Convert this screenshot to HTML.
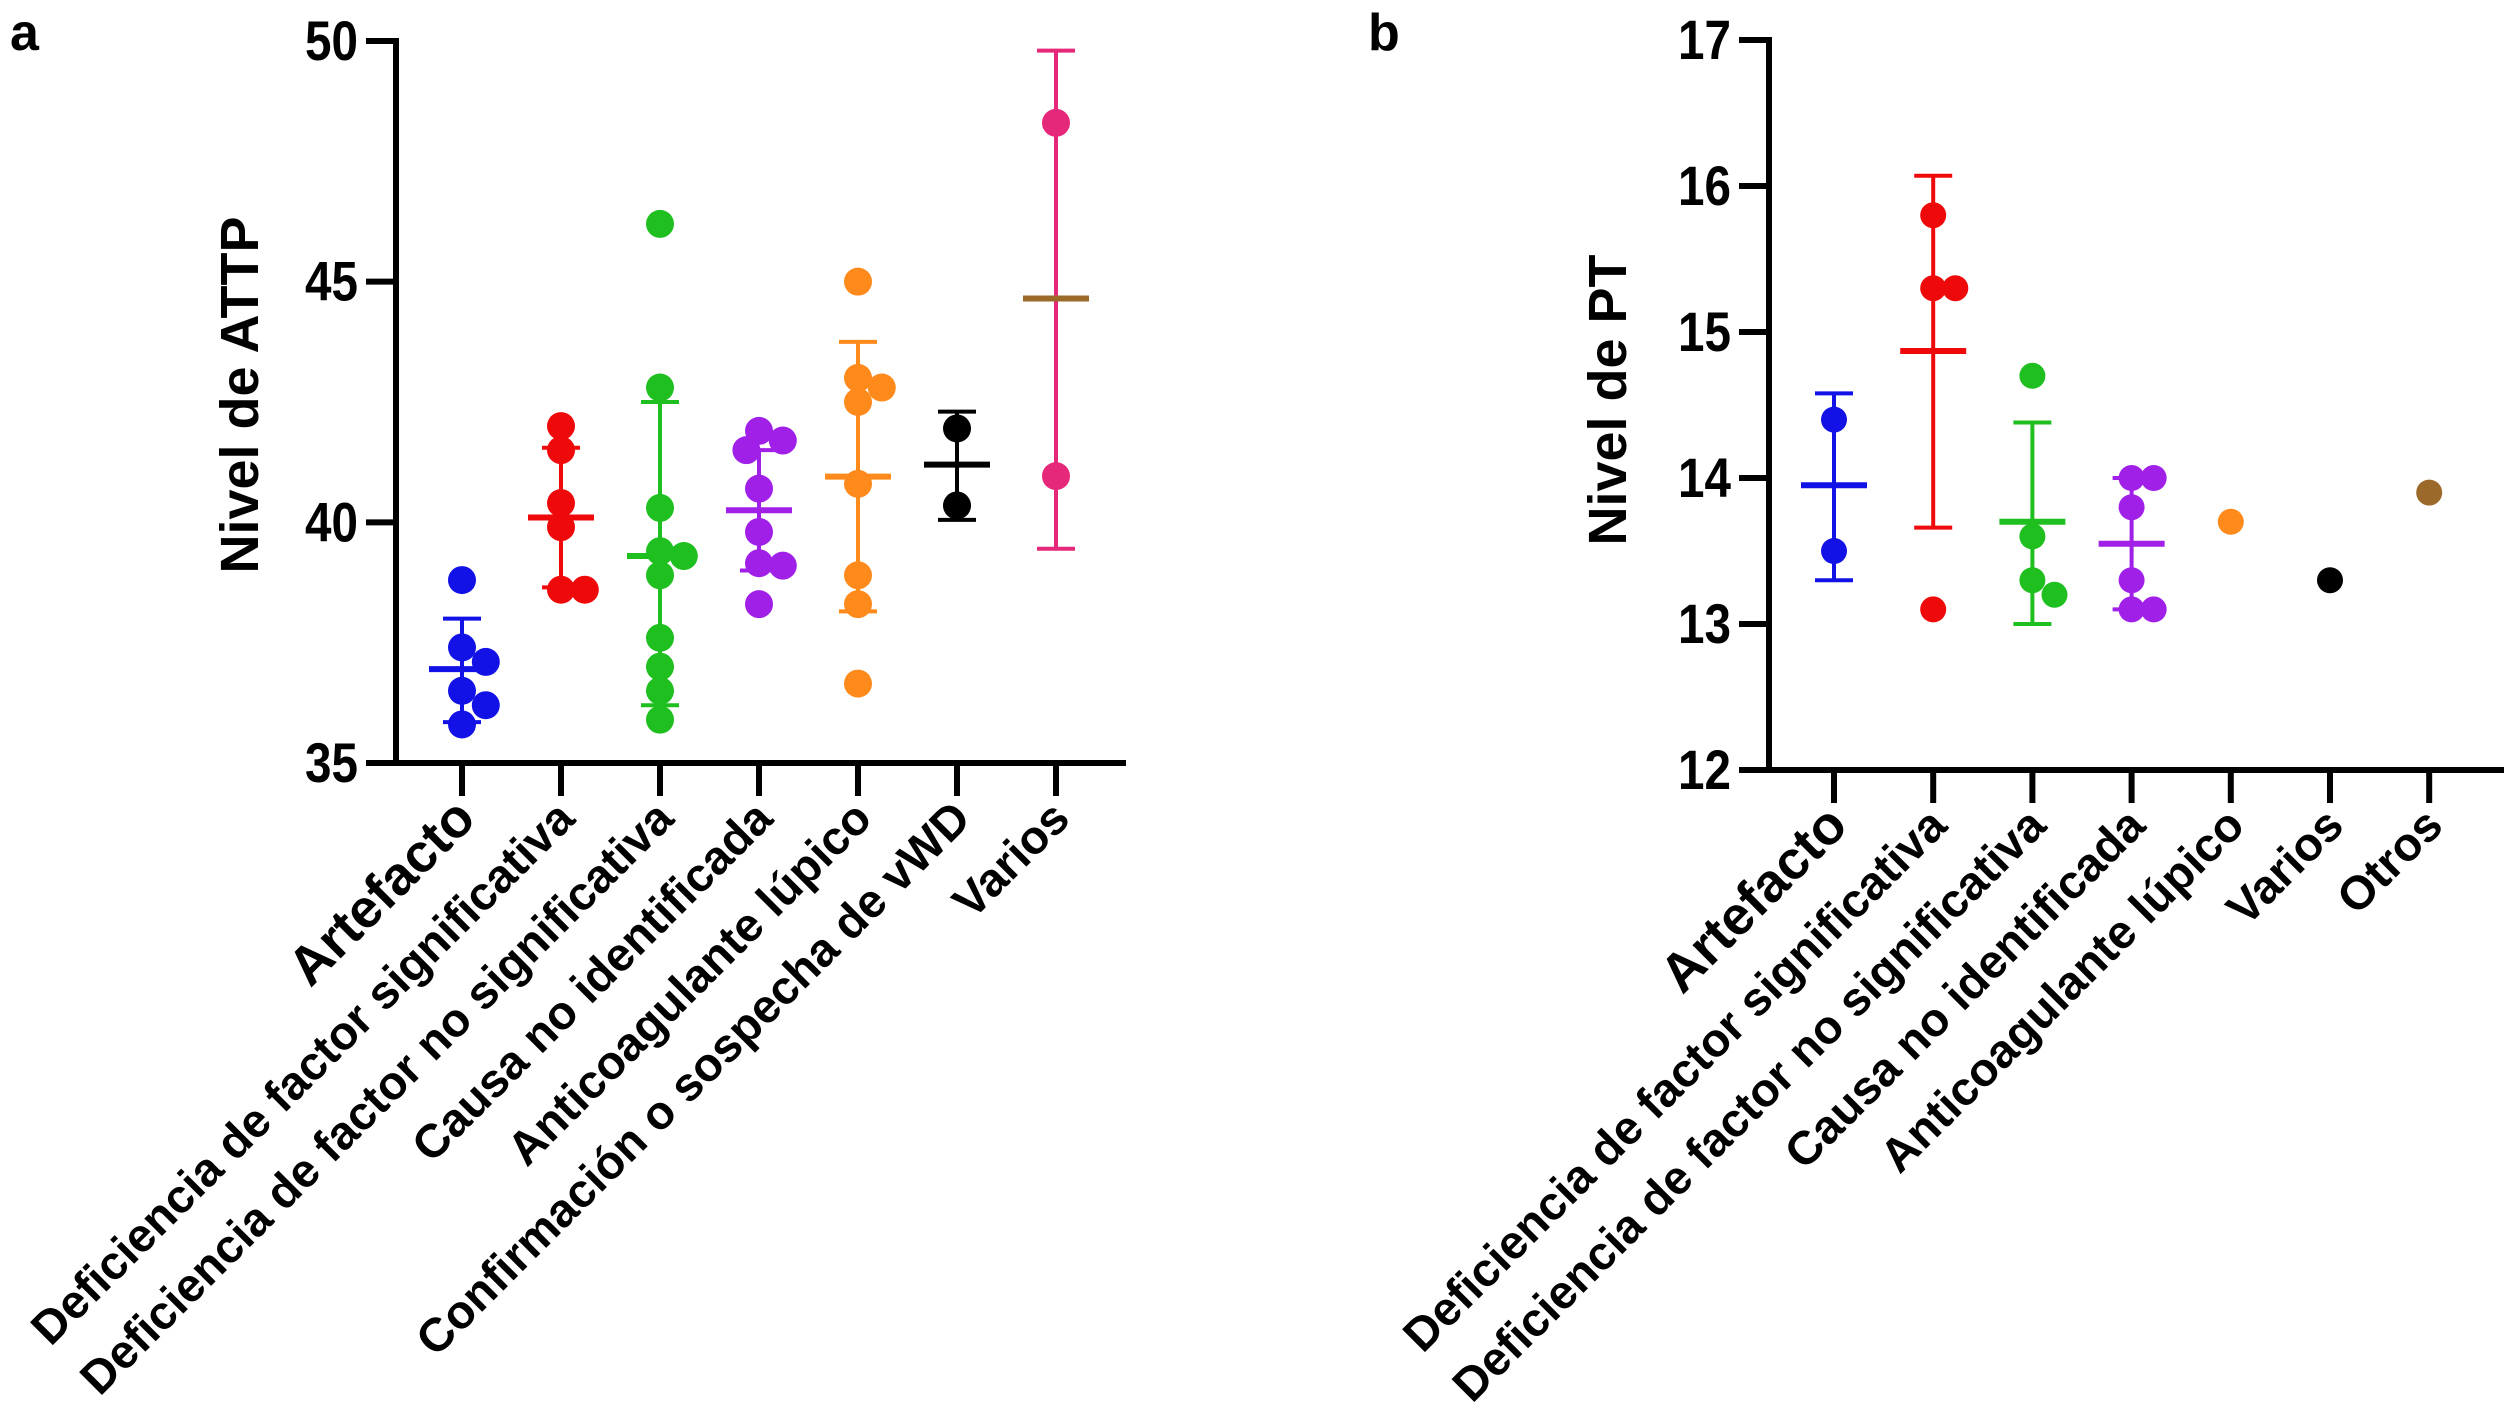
<!DOCTYPE html>
<html><head><meta charset="utf-8">
<style>
html,body{margin:0;padding:0;background:#fff;}
svg{display:block;font-family:"Liberation Sans",Arial,sans-serif;}
</style></head>
<body>
<svg id="chart" width="2508" height="1422" viewBox="0 0 2508 1422" xmlns="http://www.w3.org/2000/svg"></svg>
<script>
// ---------- Panel a data ----------
const catsA = ["Artefacto","Deficiencia de factor significativa","Deficiencia de factor no significativa","Causa no identificada","Anticoagulante lúpico","Confirmación o sospecha de vWD","Varios"];
const colorsA = ["#1212e6","#ee0a0a","#1fbf1f","#a020e8","#ff8a1c","#000000","#e6287a"];
const pointsA = [
  [38.8,37.4,37.1,36.5,36.2,35.8],
  [42.0,41.5,40.4,39.9,38.6,38.6],
  [46.2,42.8,40.3,39.4,39.3,38.9,37.6,37.0,36.5,35.9],
  [41.9,41.7,41.5,40.7,39.8,39.15,39.1,38.3],
  [45.0,43.0,42.8,42.5,40.8,38.9,38.3,36.65],
  [41.95,40.35],
  [48.3,40.96]
];
const meanA = [36.95,40.1,39.3,40.25,40.95,41.2,44.65];
const sdLowA = [35.85,38.65,36.2,39.0,38.15,40.05,39.45];
const sdHighA = [38.0,41.55,42.5,41.5,43.75,42.3,49.8];
const meanColorA = ["#1212e6","#ee0a0a","#1fbf1f","#a020e8","#ff8a1c","#000000","#9b6a2a"];
const ticksA = [35,40,45,50];

// ---------- Panel b data ----------
const catsB = ["Artefacto","Deficiencia de factor significativa","Deficiencia de factor no significativa","Causa no identificada","Anticoagulante lúpico","Varios","Otros"];
const colorsB = ["#1212e6","#ee0a0a","#1fbf1f","#a020e8","#ff8a1c","#000000","#9b6a2a"];
const pointsB = [
  [14.4,13.5],
  [15.8,15.3,15.3,13.1],
  [14.7,13.6,13.3,13.2],
  [14.0,14.0,13.8,13.3,13.1,13.1],
  [13.7],
  [13.3],
  [13.9]
];
const meanB = [13.95,14.87,13.7,13.55,null,null,null];
const sdLowB = [13.3,13.66,13.0,13.1,null,null,null];
const sdHighB = [14.58,16.07,14.38,14.0,null,null,null];
const ticksB = [12,13,14,15,16,17];

const NS="http://www.w3.org/2000/svg";
const svg=document.getElementById('chart');
function mk(tag,attrs,parent){const e=document.createElementNS(NS,tag);for(const k in attrs)e.setAttribute(k,attrs[k]);(parent||svg).appendChild(e);return e;}

function panel(cfg){
  const g=mk('g',{});
  
  
  const yS=v=>cfg.y0px+(v-cfg.vmin)/(cfg.vmax-cfg.vmin)*(cfg.y1px-cfg.y0px);
  const xS=i=>cfg.x0+i*cfg.step;
  const ya=mk('line',{x1:cfg.ax,y1:cfg.y1px-3,x2:cfg.ax,y2:cfg.y0px+3,stroke:'#000','stroke-width':6},g);
  
  
  const xa=mk('line',{x1:cfg.ax-30,y1:cfg.y0px,x2:cfg.axEnd,y2:cfg.y0px,stroke:'#000','stroke-width':6},g);
  
  
  cfg.ticks.forEach(t=>{
    const y=yS(t);
    const tl=mk('line',{x1:cfg.ax-30,y1:y,x2:cfg.ax,y2:y,stroke:'#000','stroke-width':6},g);
    
    
    const tx=mk('text',{x:cfg.ax-38,y:y+19,'text-anchor':'end','font-size':56,'font-weight':'bold',transform:`translate(${cfg.ax-38},0) scale(0.85,1) translate(${-(cfg.ax-38)},0)`},g);
    tx.textContent=t;
    
    
  });
  const yt=mk('text',{x:0,y:0,'text-anchor':'middle','font-size':54,'font-weight':'bold',transform:`translate(${cfg.ytx},${cfg.yty}) rotate(-90)`},g);
  yt.textContent=cfg.ytitle;
  
  
  const pl=mk('text',{x:cfg.lx,y:cfg.ly,'font-size':52,'font-weight':'bold'},g);
  pl.textContent=cfg.letter;
  
  
  cfg.cats.forEach((c,i)=>{
    const x=xS(i);
    const tk=mk('line',{x1:x,y1:cfg.y0px,x2:x,y2:cfg.y0px+33,stroke:'#000','stroke-width':6},g);
    
    
    const fs=(i===0)?54:47;
    const lb=mk('text',{x:0,y:0,'text-anchor':'end','font-size':fs,'font-weight':'bold',transform:`translate(${x+16},${cfg.y0px+58}) rotate(-45)`},g);
    lb.textContent=c;
    
    
  });
  cfg.points.forEach((pts,i)=>{
    const sg=mk('g',{},g);
    
    
    const cx=xS(i),col=cfg.colors[i];
    if(cfg.sdLow[i]!=null){
      const e=mk('line',{x1:cx,y1:yS(cfg.sdLow[i]),x2:cx,y2:yS(cfg.sdHigh[i]),stroke:col,'stroke-width':4},sg);
      
      
      [cfg.sdLow[i],cfg.sdHigh[i]].forEach(v=>{
        const cp=mk('line',{x1:cx-19,y1:yS(v),x2:cx+19,y2:yS(v),stroke:col,'stroke-width':4},sg);
        
        
      });
    }
    const r=cfg.r,placed=[];
    pts.forEach(v=>{
      const py=yS(v);
      let off=0;
      const cands=[0,r*0.9,-r*0.9,r*1.7,-r*1.7];
      for(const c of cands){
        if(placed.every(p=>Math.hypot(p[0]-c,p[1]-py)>=r*1.6)){off=c;break;}
        off=c;
      }
      placed.push([off,py]);
      const d=mk('circle',{cx:cx+off,cy:py,r:r,fill:col},sg);
      
      
    });
    if(cfg.mean[i]!=null){
      const m=mk('line',{x1:cx-33,y1:yS(cfg.mean[i]),x2:cx+33,y2:yS(cfg.mean[i]),stroke:cfg.meanColors[i],'stroke-width':6},sg);
      
      
    }
  });
}

panel({name:'panel-a-attp',letter:'a',lx:10,ly:50,ax:396,axEnd:1126,x0:462,step:99,
  y0px:763,y1px:41,vmin:35,vmax:50,ticks:ticksA,ytitle:'Nivel de ATTP',ytx:258,yty:395,
  cats:catsA,colors:colorsA,points:pointsA,mean:meanA,sdLow:sdLowA,sdHigh:sdHighA,meanColors:meanColorA,r:14});
panel({name:'panel-b-pt',letter:'b',lx:1368,ly:50,ax:1769,axEnd:2504,x0:1834,step:99.2,
  y0px:770,y1px:40,vmin:12,vmax:17,ticks:ticksB,ytitle:'Nivel de PT',ytx:1626,yty:400,
  cats:catsB,colors:colorsB,points:pointsB,mean:meanB,sdLow:sdLowB,sdHigh:sdHighB,meanColors:colorsB,r:13});
</script>
</body></html>
